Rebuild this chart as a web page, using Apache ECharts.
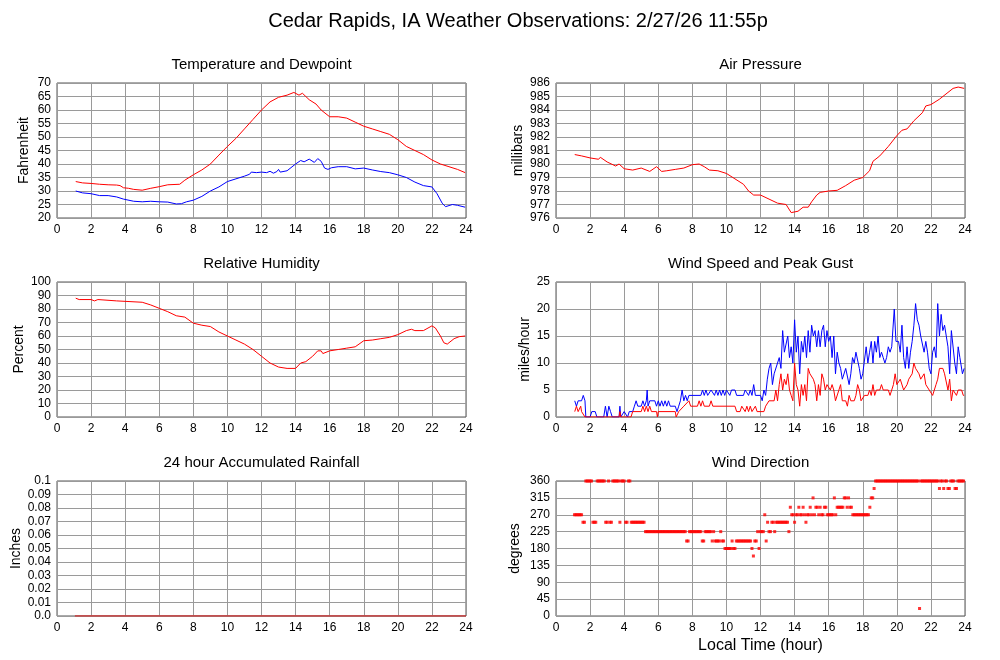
<!DOCTYPE html>
<html>
<head>
<meta charset="utf-8">
<script src="https://cdn.jsdelivr.net/npm/echarts@6/dist/echarts.min.js"></script>
<style>
html,body{margin:0;padding:0;background:#fff;}
#chart{width:1000px;height:660px;}
</style>
</head>
<body>
<div id="chart"></div>
<script>
// ---------------- DATA (hour of day, value) ----------------
const mainTitle = "Cedar Rapids, IA Weather Observations: 2/27/26 11:55p";
const panelTitles = ["Temperature and Dewpoint", "Air Pressure", "Relative Humidity",
  "Wind Speed and Peak Gust", "24 hour Accumulated Rainfall", "Wind Direction"];
const yNames = ["Fahrenheit", "millibars", "Percent", "miles/hour", "Inches", "degrees"];
const xName = "Local Time (hour)";

const temperature = [[1.1,33.5],[1.5,33.0],[2,32.8],[2.5,32.5],[3,32.3],[3.5,32.2],[3.7,32.0],[3.9,31.2],[4.2,31.0],[4.5,30.6],[5,30.3],[5.5,31.0],[6,31.6],[6.5,32.3],[7.2,32.5],[7.5,34],[8,36],[8.5,37.8],[9,40],[9.5,43.3],[10,46.5],[10.5,49.5],[11,53],[11.5,56.5],[12,60],[12.5,63],[13,64.7],[13.5,65.5],[13.9,66.5],[14.2,65.5],[14.4,66.2],[14.8,63.8],[15.2,62.2],[15.5,60],[16,57.5],[16.5,57.5],[17,57],[17.5,55.5],[18,54],[18.5,53],[19,52],[19.5,51],[20,49],[20.5,46.5],[21,45],[21.5,43.5],[22,41.5],[22.5,40],[23,39],[23.5,38],[23.95,36.8]];

const dewpoint = [[1.1,30],[1.5,29.3],[2,29],[2.5,28.3],[3,28.3],[3.5,27.8],[3.9,27],[4.5,26.2],[5,26],[5.5,26.2],[6,26],[6.5,25.9],[7,25.2],[7.3,25.3],[7.6,26],[8,26.6],[8.5,28],[9,30],[9.5,31.5],[10,33.5],[10.5,34.5],[11,35.5],[11.3,36.2],[11.4,37],[11.5,36.3],[11.7,36.8],[12,37],[12.3,36.8],[12.5,37.3],[12.7,36.6],[12.9,37.2],[13,38],[13.1,37],[13.5,37.5],[14,40],[14.3,41.3],[14.5,40.8],[14.8,41.8],[15.1,40.6],[15.3,42],[15.5,41],[15.7,38.5],[15.9,38],[16.1,38.6],[16.5,39],[17,39],[17.5,38.2],[18,38.5],[18.5,37.8],[19,37.2],[19.5,36.8],[20,36],[20.5,35],[21,33.3],[21.5,32],[22,31.5],[22.3,29],[22.6,25.5],[22.8,24.2],[23.2,25],[23.5,24.7],[23.95,24]];

const pressure = [[1.1,980.7],[1.5,980.6],[2,980.45],[2.5,980.35],[2.6,980.5],[3,980.15],[3.5,979.85],[3.7,980.0],[4,979.65],[4.5,979.55],[5,979.7],[5.5,979.45],[5.9,979.8],[6.2,979.45],[6.5,979.5],[7,979.6],[7.5,979.7],[8,979.95],[8.4,980.0],[8.7,979.8],[9,979.55],[9.5,979.5],[10,979.3],[10.5,978.9],[11,978.5],[11.3,978.0],[11.6,977.7],[12,977.7],[12.5,977.4],[13,977.1],[13.5,977.0],[13.8,976.4],[14.2,976.5],[14.5,976.8],[14.8,976.8],[15,977.2],[15.3,977.7],[15.5,977.9],[16,978.0],[16.5,978.05],[17,978.4],[17.5,978.8],[18,979.0],[18.4,979.5],[18.6,980.2],[19,980.6],[19.5,981.3],[20,982.1],[20.3,982.5],[20.6,982.6],[21,983.2],[21.5,983.8],[21.7,984.3],[22,984.4],[22.5,984.8],[23,985.3],[23.3,985.6],[23.6,985.7],[23.95,985.6]];

const humidity = [[1.1,88],[1.3,87],[2,87],[2.2,86],[2.4,87],[2.5,86],[3.5,86],[3.55,85],[5,85],[5.5,83],[6,80.5],[6.5,78],[7,75],[7.5,74],[8,69.5],[8.5,68],[9,67],[9.5,63],[10,60],[10.5,57],[11,54],[11.5,50],[12,45],[12.5,40],[13,37],[13.5,36],[14,36],[14.3,40],[14.6,41],[15,45],[15.3,49],[15.5,49],[15.6,47],[16,49],[16.5,50],[17,51],[17.5,52],[18,56.5],[18.5,57],[19,58],[19.5,59],[20,61],[20.5,64],[20.8,65],[21,64],[21.5,64],[22,67.5],[22.2,66],[22.5,60],[22.7,55],[22.9,54],[23.3,58],[23.6,59.5],[23.95,60]];

const windGust = [[1.1,3],[1.2,2],[1.3,3],[1.5,3],[1.6,4],[1.7,3],[1.75,0],[2.0,0],[2.1,1],[2.3,1],[2.4,0],[2.8,0],[2.9,2],[3.0,0],[3.1,2],[3.2,1],[3.3,0],[3.7,0],[3.75,2],[3.8,0],[4.0,1],[4.1,1],[4.2,0],[4.3,1],[4.5,1],[4.6,2],[4.7,3],[4.8,2],[5.0,2],[5.1,3],[5.2,2],[5.3,3],[5.35,5],[5.4,2],[5.5,3],[5.8,3],[5.9,2],[6.0,3],[6.1,2],[6.2,3],[6.3,2],[6.4,3],[6.5,2],[6.6,3],[6.7,2],[7.0,2],[7.1,1],[7.2,2],[7.3,3],[7.4,5],[7.5,3],[7.6,4],[7.7,3],[7.8,4],[8.5,4],[8.6,5],[8.7,4],[8.8,5],[8.9,4],[9.0,4],[9.1,5],[9.3,4],[9.4,5],[9.5,4],[9.6,5],[9.7,4],[9.8,5],[9.9,4],[10.0,5],[10.2,4],[10.3,5],[10.5,5],[10.6,4],[11.0,4],[11.1,5],[11.3,4],[11.4,5],[11.5,4],[11.6,6],[11.7,4],[12.0,4],[12.1,3],[12.2,5],[12.3,4],[12.4,7],[12.5,9],[12.6,10],[12.7,6],[12.8,8],[12.9,8],[13.0,10],[13.1,11],[13.2,9],[13.3,16],[13.4,12],[13.5,12],[13.6,15],[13.7,11],[13.8,13],[13.9,10],[14.0,18],[14.1,12],[14.2,15],[14.3,8],[14.4,14],[14.5,12],[14.6,15],[14.7,11],[14.8,16],[14.9,12],[15.0,17],[15.1,15],[15.2,16],[15.3,13],[15.4,16],[15.5,13],[15.6,16],[15.7,17],[15.8,13],[15.9,16],[16.0,14],[16.1,15],[16.2,11],[16.3,15],[16.4,8],[16.5,12],[16.6,10],[16.7,9],[16.8,7],[16.9,7],[17.0,9],[17.1,9],[17.2,6],[17.3,8],[17.4,11],[17.5,10],[17.6,12],[17.7,12],[17.8,9],[17.9,7],[18.0,8],[18.1,8],[18.2,13],[18.3,10],[18.4,12],[18.5,14],[18.6,10],[18.7,14],[18.8,12],[18.9,15],[19.0,11],[19.1,12],[19.2,11],[19.3,10],[19.4,11],[19.5,13],[19.6,12],[19.7,13],[19.85,20],[19.95,14],[20.1,14],[20.2,12],[20.3,17],[20.4,11],[20.5,9],[20.6,13],[20.7,9],[20.8,12],[20.9,14],[21.0,17],[21.1,21],[21.2,18],[21.3,17],[21.4,15],[21.5,15],[21.6,12],[21.7,14],[21.8,12],[21.9,9],[22.0,8],[22.1,12],[22.2,13],[22.3,11],[22.4,21],[22.5,15],[22.6,19],[22.7,16],[22.8,17],[22.9,15],[23.0,13],[23.1,8],[23.2,16],[23.3,16],[23.4,10],[23.5,8],[23.6,13],[23.7,11],[23.8,11],[23.85,8],[23.95,9]];

const windSpeed = [[1.1,1],[1.2,2],[1.3,1],[1.4,1],[1.45,2],[1.5,1],[1.6,1],[1.7,0],[3.7,0],[3.75,1],[3.8,0],[4.4,0],[4.5,1],[5.0,1],[5.1,2],[5.2,1],[5.3,2],[5.4,1],[5.5,2],[5.6,1],[5.9,1],[5.95,0],[6.0,1],[7.0,1],[7.05,0],[7.2,1],[7.5,2],[7.8,3],[7.9,2],[8.3,2],[8.4,3],[8.5,2],[8.6,3],[8.7,2],[9.0,2],[9.1,3],[9.2,2],[10.5,2],[10.6,1],[10.8,1],[10.9,2],[11.0,2],[11.1,1],[11.2,2],[11.3,1],[11.4,2],[11.5,1],[11.6,1],[11.7,2],[11.8,1],[12.2,1],[12.3,2],[12.4,2],[12.5,3],[12.8,3],[12.9,5],[13.0,3],[13.1,6],[13.2,8],[13.3,5],[13.4,7],[13.5,6],[13.6,8],[13.7,5],[13.8,4],[13.9,3],[14.0,10],[14.1,6],[14.2,5],[14.3,2],[14.4,6],[14.5,4],[14.6,6],[14.7,3],[14.8,9],[14.9,8],[15.0,8],[15.1,7],[15.2,6],[15.3,3],[15.4,6],[15.5,4],[15.6,8],[15.7,7],[15.8,5],[15.9,6],[16.0,6],[16.1,5],[16.2,6],[16.3,5],[16.4,3],[16.5,3],[16.6,5],[16.7,6],[16.8,3],[16.9,3],[17.0,3],[17.1,2],[17.2,4],[17.3,3],[17.5,3],[17.6,4],[17.7,6],[17.8,5],[17.9,3],[18.0,3],[18.1,4],[18.3,4],[18.4,5],[18.5,4],[18.6,6],[18.7,4],[18.8,5],[19.0,5],[19.1,6],[19.2,5],[19.5,5],[19.6,4],[19.7,5],[19.8,6],[19.9,8],[20.0,6],[20.1,6],[20.2,7],[20.3,7],[20.4,5],[20.5,5],[20.6,6],[20.7,7],[20.8,7],[20.9,8],[21.0,10],[21.1,9],[21.2,9],[21.3,8],[21.4,7],[21.5,7],[21.6,8],[21.7,6],[21.8,6],[21.9,5],[22.0,5],[22.1,4],[22.2,5],[22.3,6],[22.4,7],[22.5,9],[22.6,9],[22.7,9],[22.8,8],[22.9,8],[23.0,5],[23.1,7],[23.2,3],[23.3,5],[23.4,5],[23.5,4],[23.6,5],[23.7,5],[23.8,5],[23.9,4],[23.95,4]];

const rainfall = [[1.05,0],[2,0],[3,0],[4,0],[5,0],[6,0],[7,0],[8,0],[9,0],[10,0],[11,0],[12,0],[13,0],[14,0],[15,0],[16,0],[17,0],[18,0],[19,0],[20,0],[21,0],[22,0],[23,0],[24,0]];

// Wind direction, one reading per 5-minute observation, first one at 1:05
const dirStartMinute = 65;
const dirStepMinutes = 5;
const windDir = [
  270,270,270,270,270,270,250,250,360,360,360,
  360,360,250,250,250,360,360,360,360,360,360,250,
  250,360,250,250,360,360,360,360,360,250,360,360,
  360,250,250,360,360,250,250,250,250,250,250,250,
  250,250,250,225,225,225,225,225,225,225,225,225,
  225,225,225,225,225,225,225,225,225,225,225,225,
  225,225,225,225,225,225,225,225,200,200,225,225,
  225,225,225,225,225,225,225,200,200,225,225,225,
  225,225,200,225,200,200,200,200,225,200,200,180,
  180,180,180,180,200,180,180,200,200,200,200,200,
  200,200,200,200,200,200,180,160,200,200,225,180,
  225,225,225,270,200,250,225,225,250,250,225,250,
  250,250,250,250,250,250,250,250,225,290,270,270,
  250,270,270,290,270,270,290,270,250,270,270,290,
  270,315,270,290,290,270,290,270,270,290,290,270,
  270,270,270,270,315,270,290,290,290,290,290,315,
  315,290,315,290,290,270,270,270,270,270,270,270,
  270,270,270,270,270,290,315,315,340,360,360,360,
  360,360,360,360,360,360,360,360,360,360,360,360,
  360,360,360,360,360,360,360,360,360,360,360,360,
  360,360,360,360,20,360,360,360,360,360,360,360,
  360,360,360,360,360,360,340,360,360,340,360,360,
  340,340,360,360,360,340,340,360,360,360,360,360
];

// ---------------- CHART ----------------
const FONT = "'Liberation Sans', Arial, Helvetica, sans-serif";
const windDirPoints = windDir.map((d, i) => [(dirStartMinute + i * dirStepMinutes) / 60, d]);

const grids = [
  {left: 57, top: 83, width: 409, height: 135},
  {left: 556, top: 83, width: 409, height: 135},
  {left: 57, top: 282, width: 409, height: 135},
  {left: 556, top: 282, width: 409, height: 135},
  {left: 57, top: 481, width: 409, height: 135},
  {left: 556, top: 481, width: 409, height: 135}
];
const yRanges = [
  {min: 20, max: 70, interval: 5},
  {min: 976, max: 986, interval: 1},
  {min: 0, max: 100, interval: 10},
  {min: 0, max: 25, interval: 5},
  {min: 0, max: 0.1, interval: 0.01},
  {min: 0, max: 360, interval: 45}
];
const nameGaps = [26, 31, 31, 24, 34, 34];

const gridLine = {show: true, lineStyle: {color: '#9a9a9a', width: 1}};

const option = {
  animation: false,
  backgroundColor: '#ffffff',
  textStyle: {fontFamily: FONT},
  graphic: [
    {type: 'text', x: 518, y: 21, style: {text: mainTitle, font: '20px ' + FONT, fill: '#000', align: 'center', verticalAlign: 'middle', textAlign: 'center', textVerticalAlign: 'middle'}}
  ].concat(panelTitles.map((t, i) => ({
    type: 'text',
    x: grids[i].left + grids[i].width / 2,
    y: [65, 65, 264, 264, 463, 463][i],
    style: {text: t, font: '15px ' + FONT, fill: '#000', align: 'center', verticalAlign: 'middle', textAlign: 'center', textVerticalAlign: 'middle'}
  }))),
  grid: grids.map(g => Object.assign({show: true, borderColor: '#555', borderWidth: 1, backgroundColor: 'transparent', containLabel: false}, g)),
  xAxis: grids.map((g, i) => ({
    type: 'value', gridIndex: i, min: 0, max: 24, interval: 2,
    axisLine: {show: false}, axisTick: {show: false},
    axisLabel: {color: '#000', fontSize: 12, margin: 6, fontFamily: FONT},
    splitLine: gridLine,
    name: i === 5 ? xName : '',
    nameLocation: 'middle', nameGap: 22,
    nameTextStyle: {color: '#000', fontSize: 16, fontFamily: FONT}
  })),
  yAxis: grids.map((g, i) => ({
    type: 'value', gridIndex: i,
    min: yRanges[i].min, max: yRanges[i].max, interval: yRanges[i].interval,
    axisLine: {show: false}, axisTick: {show: false},
    axisLabel: {
      color: '#000', fontSize: 12, margin: 6, fontFamily: FONT,
      formatter: i === 4 ? (v => v === 0 ? '0.0' : String(parseFloat(v.toFixed(2)))) : (v => String(Math.round(v)))
    },
    splitLine: gridLine,
    name: yNames[i], nameLocation: 'middle', nameGap: nameGaps[i], nameRotate: 90,
    nameTextStyle: {color: '#000', fontSize: 14, fontFamily: FONT}
  })),
  series: [
    {type: 'line', xAxisIndex: 0, yAxisIndex: 0, data: temperature, showSymbol: false, lineStyle: {color: '#ff0000', width: 1}, itemStyle: {color: '#ff0000'}},
    {type: 'line', xAxisIndex: 0, yAxisIndex: 0, data: dewpoint, showSymbol: false, lineStyle: {color: '#0000ff', width: 1}, itemStyle: {color: '#0000ff'}},
    {type: 'line', xAxisIndex: 1, yAxisIndex: 1, data: pressure, showSymbol: false, lineStyle: {color: '#ff0000', width: 1}, itemStyle: {color: '#ff0000'}},
    {type: 'line', xAxisIndex: 2, yAxisIndex: 2, data: humidity, showSymbol: false, lineStyle: {color: '#ff0000', width: 1}, itemStyle: {color: '#ff0000'}},
    {type: 'line', xAxisIndex: 3, yAxisIndex: 3, data: windGust, showSymbol: false, lineStyle: {color: '#0000ff', width: 1}, itemStyle: {color: '#0000ff'}},
    {type: 'line', xAxisIndex: 3, yAxisIndex: 3, data: windSpeed, showSymbol: false, lineStyle: {color: '#ff0000', width: 1}, itemStyle: {color: '#ff0000'}},
    {type: 'line', xAxisIndex: 4, yAxisIndex: 4, data: rainfall, showSymbol: false, lineStyle: {color: '#cc3333', width: 1.5}, itemStyle: {color: '#cc3333'}},
    {type: 'scatter', xAxisIndex: 5, yAxisIndex: 5, data: windDirPoints, symbol: 'rect', symbolSize: 3, itemStyle: {color: '#ff0000'}}
  ]
};

const chart = echarts.init(document.getElementById('chart'), null, {renderer: 'canvas'});
chart.setOption(option);
</script>
</body>
</html>
